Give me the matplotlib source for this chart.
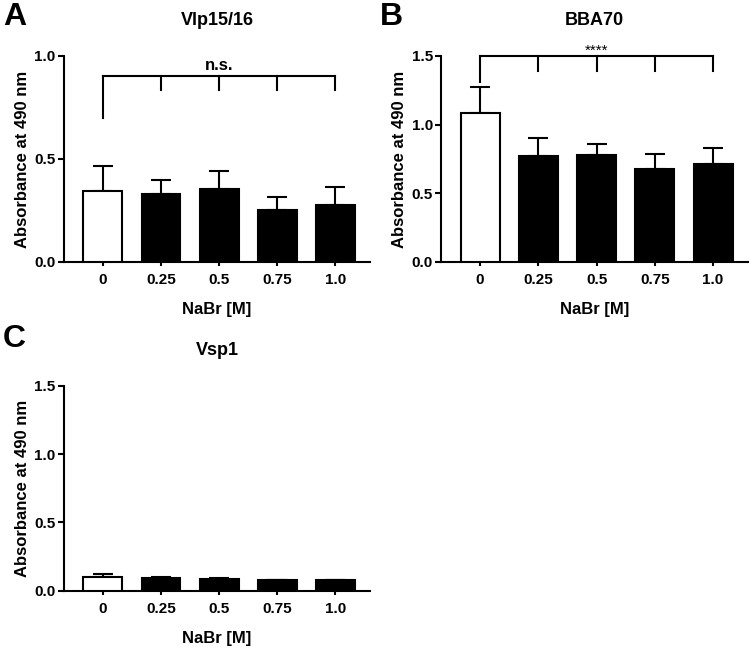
import matplotlib.pyplot as plt

plt.rcParams['font.family'] = ['Liberation Sans', 'DejaVu Sans']
plt.rcParams['font.weight'] = 'bold'

# NaBr concentrations on the x axis
nabr = ['0', '0.25', '0.5', '0.75', '1.0']

# Vlp15/16 absorbance (mean, SD)
vlp_mean = [0.345, 0.328, 0.353, 0.252, 0.277]
vlp_sd = [0.122, 0.070, 0.090, 0.062, 0.087]

# BBA70
bba_mean = [1.087, 0.772, 0.781, 0.680, 0.711]
bba_sd = [0.185, 0.128, 0.078, 0.104, 0.119]

# Vsp1
vsp_mean = [0.103, 0.091, 0.086, 0.077, 0.077]
vsp_sd = [0.022, 0.010, 0.009, 0.005, 0.005]

fig = plt.figure(figsize=(7.54, 6.48), dpi=100)


def panel(rect, means, sds, title, ymax, yticks, bracket=None):
    ax = fig.add_axes(rect)
    x = list(range(len(nabr)))
    colors = ['white'] + ['black'] * (len(nabr) - 1)
    ax.bar(x, means, width=0.67, color=colors, edgecolor='black', linewidth=1.5, zorder=3)
    ax.errorbar(x, means, yerr=[[0] * len(sds), sds], fmt='none', ecolor='black',
                elinewidth=1.5, capsize=7, capthick=1.5, zorder=2)
    ax.set_xlim(-0.67, 4.6)
    ax.set_ylim(0, ymax)
    ax.set_yticks(yticks)
    ax.set_yticklabels(['%.1f' % t for t in yticks])
    ax.set_xticks(x)
    ax.set_xticklabels(nabr)
    for s in ['top', 'right']:
        ax.spines[s].set_visible(False)
    for s in ['left', 'bottom']:
        ax.spines[s].set_linewidth(1.5)
    ax.tick_params(axis='y', width=1.5, length=4, labelsize=11, pad=2)
    ax.tick_params(axis='x', width=1.5, length=3, labelsize=11, pad=5)
    ax.set_xlabel('NaBr [M]', fontsize=12, fontweight='bold', labelpad=11)
    ax.set_ylabel('Absorbance at 490 nm', fontsize=12, fontweight='bold', labelpad=3)
    ax.set_title(title, fontsize=13, fontweight='bold', pad=22)
    if bracket is not None:
        top, leg0, leg, label, labely, lsize, lweight = bracket
        ax.plot([0, 4], [top, top], color='black', lw=1.5, clip_on=False)
        ax.plot([0, 0], [leg0, top], color='black', lw=1.5, clip_on=False)
        for xi in x[1:]:
            ax.plot([xi, xi], [leg, top], color='black', lw=1.5, clip_on=False)
        ax.text(2, labely, label, ha='center', va='baseline', fontsize=lsize,
                fontweight=lweight, clip_on=False)
    return ax


panel([0.0849, 0.5957, 0.406, 0.318], vlp_mean, vlp_sd, 'Vlp15/16', 1.0,
      [0.0, 0.5, 1.0], (0.903, 0.70, 0.835, 'n.s.', 0.93, 12, 'bold'))
panel([0.585, 0.5957, 0.407, 0.318], bba_mean, bba_sd, 'BBA70', 1.5,
      [0.0, 0.5, 1.0, 1.5], (1.5, 1.313, 1.393, '****', 1.51, 11, 'normal'))
panel([0.0849, 0.0884, 0.406, 0.316], vsp_mean, vsp_sd, 'Vsp1', 1.5,
      [0.0, 0.5, 1.0, 1.5])

# panel letters
fig.text(0.004, 0.997, 'A', fontsize=23, fontweight='bold', va='top')
fig.text(0.504, 0.997, 'B', fontsize=23, fontweight='bold', va='top')
fig.text(0.004, 0.500, 'C', fontsize=23, fontweight='bold', va='top')

plt.savefig('out.png', dpi=100)
